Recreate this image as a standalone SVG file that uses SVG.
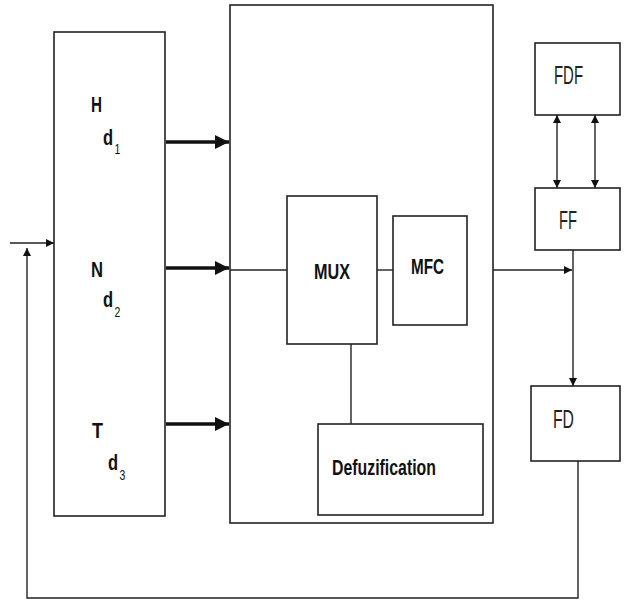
<svg xmlns="http://www.w3.org/2000/svg" width="626" height="600" viewBox="0 0 626 600">
<style>
.box{fill:#fff;stroke:#222;stroke-width:1.6}
.ln{fill:none;stroke:#222;stroke-width:1.4}
.thick{fill:none;stroke:#111;stroke-width:3.5}
.b{font-family:"Liberation Sans",Arial,sans-serif;font-weight:bold;font-size:22px;fill:#111}
.r{font-family:"Liberation Sans",Arial,sans-serif;font-size:25px;fill:#222}
.s{font-weight:normal;font-size:14px}
</style>
<defs>
<marker id="ah" viewBox="0 0 10 10" refX="10" refY="5" markerWidth="8" markerHeight="8" markerUnits="userSpaceOnUse" orient="auto-start-reverse"><path d="M0,0 L10,5 L0,10 z" fill="#111"/></marker>
<marker id="ahb" viewBox="0 0 10 10" refX="10" refY="5" markerWidth="4" markerHeight="4" orient="auto"><path d="M0,0 L10,5 L0,10 z" fill="#111"/></marker>
</defs>
<rect width="626" height="600" fill="#fff"/>
<g id="input-box">
<rect class="box" x="54" y="32" width="111" height="484"/>
<text class="b" x="91" y="112" textLength="11" lengthAdjust="spacingAndGlyphs">H</text>
<text class="b" transform="translate(103,145) scale(0.75,1)">d<tspan class="s" dx="2" dy="9">1</tspan></text>
<text class="b" x="91" y="277" textLength="12" lengthAdjust="spacingAndGlyphs">N</text>
<text class="b" transform="translate(103,307) scale(0.75,1)">d<tspan class="s" dx="2" dy="10">2</tspan></text>
<text class="b" x="92" y="438" textLength="11" lengthAdjust="spacingAndGlyphs">T</text>
<text class="b" transform="translate(108,470) scale(0.75,1)">d<tspan class="s" dx="2" dy="10">3</tspan></text>
</g>
<g id="controller">
<rect class="box" x="230" y="5" width="263" height="518"/>
</g>
<g id="mux">
<rect class="box" x="287" y="196" width="90" height="148"/>
<text class="b" x="314" y="279" font-size="24" textLength="36" lengthAdjust="spacingAndGlyphs">MUX</text>
</g>
<g id="mfc">
<rect class="box" x="393" y="216" width="74" height="109"/>
<text class="b" x="411" y="274" font-size="23" textLength="33" lengthAdjust="spacingAndGlyphs">MFC</text>
</g>
<g id="defuz">
<rect class="box" x="318" y="424" width="165" height="91"/>
<text class="b" x="332" y="475" font-size="23" textLength="104" lengthAdjust="spacingAndGlyphs">Defuzification</text>
</g>
<g id="fdf">
<rect class="box" x="535" y="43" width="85" height="72"/>
<text class="r" x="554" y="84" textLength="29" lengthAdjust="spacingAndGlyphs">FDF</text>
</g>
<g id="ff">
<rect class="box" x="535" y="188" width="85" height="62"/>
<text class="r" x="559" y="229" textLength="18" lengthAdjust="spacingAndGlyphs">FF</text>
</g>
<g id="fd">
<rect class="box" x="531" y="386" width="89" height="75"/>
<text class="r" x="553" y="428" textLength="21" lengthAdjust="spacingAndGlyphs">FD</text>
</g>
<g id="connectors">
<line class="thick" x1="166" y1="142" x2="229" y2="142" marker-end="url(#ahb)"/>
<line class="thick" x1="166" y1="268" x2="229" y2="268" marker-end="url(#ahb)"/>
<line class="thick" x1="166" y1="424" x2="229" y2="424" marker-end="url(#ahb)"/>
<line class="ln" x1="230" y1="270" x2="287" y2="270"/>
<line class="ln" x1="377" y1="270" x2="393" y2="270"/>
<line class="ln" x1="351" y1="344" x2="351" y2="424"/>
<line class="ln" x1="493" y1="270" x2="572" y2="270" marker-end="url(#ah)"/>
<line class="ln" x1="557" y1="115" x2="557" y2="188" marker-start="url(#ah)" marker-end="url(#ah)"/>
<line class="ln" x1="595" y1="115" x2="595" y2="188" marker-start="url(#ah)" marker-end="url(#ah)"/>
<line class="ln" x1="573" y1="250" x2="573" y2="386" marker-end="url(#ah)"/>
<polyline class="ln" points="578,461 578,598 27,598 27,248" marker-end="url(#ah)"/>
<line class="ln" x1="10" y1="243" x2="54" y2="243" marker-end="url(#ah)"/>
</g>
</svg>
